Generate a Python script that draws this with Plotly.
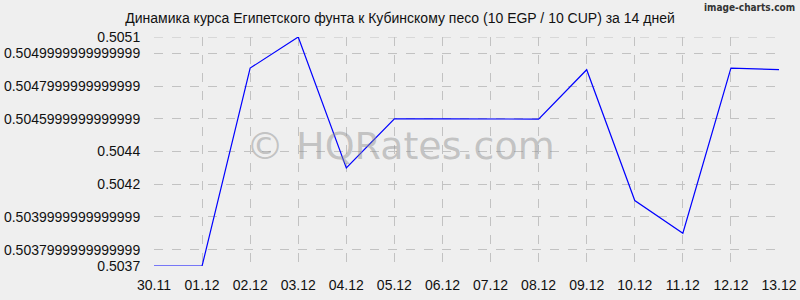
import plotly.graph_objects as go

dates = ["30.11", "01.12", "02.12", "03.12", "04.12", "05.12", "06.12",
         "07.12", "08.12", "09.12", "10.12", "11.12", "12.12", "13.12"]
rates = [0.5037, 0.5037, 0.50491, 0.5051, 0.50430, 0.50460, 0.50460,
         0.50460, 0.504598, 0.50490, 0.50410, 0.50390, 0.50491, 0.50490]
y_tick_vals = [0.5037, 0.5038, 0.5040, 0.5042, 0.5044, 0.5046, 0.5048, 0.5050, 0.5051]
y_tick_text = ["0.5037", "0.5037999999999999", "0.5039999999999999", "0.5042",
               "0.5044", "0.5045999999999999", "0.5047999999999999",
               "0.5049999999999999", "0.5051"]

x_idx = list(range(len(dates)))

fig = go.Figure()
fig.add_trace(go.Scatter(x=x_idx, y=rates, mode="lines",
                         line=dict(color="#0000ff", width=1.2),
                         hoverinfo="skip"))

grid = "#c2c2c2"
fig.update_layout(
    width=800, height=300,
    margin=dict(l=154, r=21, t=37, b=34, autoexpand=False),
    paper_bgcolor="#efefef", plot_bgcolor="#efefef",
    showlegend=False,
    font=dict(family="Liberation Sans, Arial, sans-serif", size=14, color="#111111"),
    title=dict(text="Динамика курса Египетского фунта к Кубинскому песо (10 EGP / 10 CUP) за 14 дней",
               x=0.5, xanchor="center", y=0.94, yanchor="middle",
               font=dict(size=14, color="#111111")),
    xaxis=dict(range=[0, 13], tickvals=x_idx, ticktext=dates, automargin=False,
               showgrid=True, gridcolor=grid, griddash="dash", gridwidth=1,
               zeroline=False, showline=False, ticks="outside", ticklen=6,
               tickcolor="rgba(0,0,0,0)", tickfont=dict(size=14)),
    yaxis=dict(range=[0.5037, 0.5051], tickvals=y_tick_vals, ticktext=y_tick_text,
               automargin=False,
               showgrid=True, gridcolor=grid, griddash="dash", gridwidth=1,
               zeroline=False, showline=False, ticks="outside", ticklen=10,
               tickcolor="rgba(0,0,0,0)", tickfont=dict(size=14)),
    annotations=[
        dict(text="© HQRates.com", x=(400 - 154) / 625, y=(266 - 146) / 229,
             xref="paper", yref="paper",
             xanchor="center", yanchor="middle", showarrow=False,
             font=dict(family="DejaVu Sans, sans-serif", size=38,
                       color="rgba(140,140,140,0.45)")),
        dict(text="<b>image-charts.com</b>", x=1.0, y=1.0, xref="paper", yref="paper",
             xanchor="right", yanchor="top", yshift=37, xshift=18, showarrow=False,
             font=dict(family="DejaVu Sans Condensed, DejaVu Sans, sans-serif",
                       size=10, color="#333333")),
    ],
)
fig.add_shape(type="line", xref="paper", yref="y", x0=0, x1=1, y0=0.5051, y1=0.5051,
              line=dict(color=grid, width=1, dash="dash"), layer="below")
fig.write_html("out.html")
